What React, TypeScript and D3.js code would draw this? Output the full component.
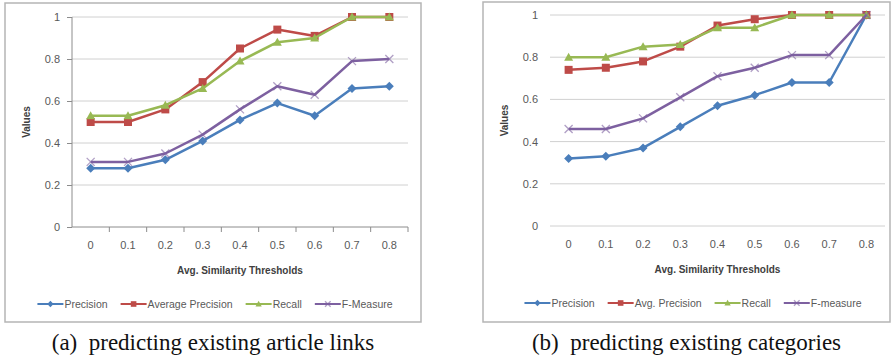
import React, { useEffect, useRef } from 'react';
import * as d3 from 'd3';

const thresholds = ['0', '0.1', '0.2', '0.3', '0.4', '0.5', '0.6', '0.7', '0.8'];
const yTicks = [0, 0.2, 0.4, 0.6, 0.8, 1];

// (a) predicting existing article links
const linksPrecision = [0.28, 0.28, 0.32, 0.41, 0.51, 0.59, 0.53, 0.66, 0.67];
const linksAvgPrecision = [0.5, 0.5, 0.56, 0.69, 0.85, 0.94, 0.91, 1.0, 1.0];
const linksRecall = [0.53, 0.53, 0.58, 0.66, 0.79, 0.88, 0.9, 1.0, 1.0];
const linksFMeasure = [0.31, 0.31, 0.35, 0.44, 0.56, 0.67, 0.63, 0.79, 0.8];
const linksNames = ['Precision', 'Average Precision', 'Recall', 'F-Measure'];

// (b) predicting existing categories
const catPrecision = [0.32, 0.33, 0.37, 0.47, 0.57, 0.62, 0.68, 0.68, 1.0];
const catAvgPrecision = [0.74, 0.75, 0.78, 0.85, 0.95, 0.98, 1.0, 1.0, 1.0];
const catRecall = [0.8, 0.8, 0.85, 0.86, 0.94, 0.94, 1.0, 1.0, 1.0];
const catFMeasure = [0.46, 0.46, 0.51, 0.61, 0.71, 0.75, 0.81, 0.81, 1.0];
const catNames = ['Precision', 'Avg. Precision', 'Recall', 'F-measure'];

const colors = ['#4a7ebb', '#be4b48', '#98b954', '#7d60a0'];
const markers = ['diamond', 'square', 'triangle', 'cross'];
const SANS = '"Liberation Sans", Arial, sans-serif';

type PanelProps = {
  series: number[][];
  names: string[];
  frame: { x: number; y: number; w: number; h: number };
  plot: { left: number; right: number; top: number; bottom: number };
  axisLines: boolean;
  legendCenter: number;
  caption: string;
};

function drawMarker(g: any, kind: string, x: number, y: number, color: string, s = 1) {
  if (kind === 'diamond') {
    const r = 4.5 * s;
    g.append('path').attr('d', `M${x},${y - r}L${x + r},${y}L${x},${y + r}L${x - r},${y}Z`).attr('fill', color);
  } else if (kind === 'square') {
    const r = 4 * s;
    g.append('rect').attr('x', x - r).attr('y', y - r).attr('width', 2 * r).attr('height', 2 * r).attr('fill', color);
  } else if (kind === 'triangle') {
    const r = 4.5 * s;
    g.append('path').attr('d', `M${x},${y - r}L${x + r},${y + r * 0.78}L${x - r},${y + r * 0.78}Z`).attr('fill', color);
  } else {
    const r = 4 * s;
    g.append('path').attr('d', `M${x - r},${y - r}L${x + r},${y + r}M${x - r},${y + r}L${x + r},${y - r}`)
      .attr('stroke', color).attr('stroke-width', 1.3).attr('opacity', 0.6);
  }
}

function Panel({ series, names, frame, plot, axisLines, legendCenter, caption }: PanelProps) {
  const ref = useRef<SVGGElement>(null);

  useEffect(() => {
    const g = d3.select(ref.current);
    g.selectAll('*').remove();

    g.append('rect')
      .attr('x', frame.x).attr('y', frame.y).attr('width', frame.w).attr('height', frame.h)
      .attr('fill', 'white').attr('stroke', '#b5b5b5').attr('stroke-width', 1.5);

    const x = d3.scaleBand().domain(thresholds).range([plot.left, plot.right]);
    const y = d3.scaleLinear().domain([0, 1]).range([plot.bottom, plot.top]);

    // grid
    g.append('g').selectAll('line').data(yTicks.filter(t => t > 0)).join('line')
      .attr('x1', plot.left).attr('x2', plot.right)
      .attr('y1', d => y(d)).attr('y2', d => y(d))
      .attr('stroke', '#d0d0d0').attr('stroke-width', 1);

    const yAxis = g.append('g').attr('transform', `translate(${plot.left},0)`)
      .call(d3.axisLeft(y).tickValues(yTicks).tickFormat(d3.format('~g')).tickSize(axisLines ? 5 : 0).tickPadding(axisLines ? 7 : 12));
    yAxis.selectAll('text').attr('font-family', SANS).attr('font-size', 11).attr('fill', '#595959');
    yAxis.selectAll('line').attr('stroke', '#8c8c8c');
    if (axisLines) {
      yAxis.select('.domain').attr('stroke', '#8c8c8c').attr('d', `M0,${plot.bottom}V${plot.top}`);
    } else {
      yAxis.select('.domain').remove();
    }

    const xAxis = g.append('g').attr('transform', `translate(0,${plot.bottom})`)
      .call(d3.axisBottom(x).tickSize(0).tickPadding(14));
    xAxis.selectAll('text').attr('font-family', SANS).attr('font-size', 11).attr('fill', '#595959');
    if (axisLines) {
      xAxis.select('.domain').attr('stroke', '#8c8c8c').attr('d', `M${plot.left},0H${plot.right}`);
      g.append('g').selectAll('line').data(thresholds).join('line')
        .attr('x1', d => (x(d) as number) + x.bandwidth()).attr('x2', d => (x(d) as number) + x.bandwidth())
        .attr('y1', plot.bottom).attr('y2', plot.bottom + 5)
        .attr('stroke', '#8c8c8c');
    } else {
      xAxis.select('.domain').attr('stroke', '#d0d0d0').attr('d', `M${plot.left},0H${plot.right}`);
    }

    // axis titles
    g.append('text')
      .attr('transform', `translate(${frame.x + 25},${(plot.top + plot.bottom) / 2}) rotate(-90)`)
      .attr('text-anchor', 'middle').attr('font-family', SANS).attr('font-size', 10)
      .attr('font-weight', 'bold').attr('fill', '#404040').text('Values');
    g.append('text')
      .attr('x', (plot.left + plot.right) / 2).attr('y', plot.bottom + 47)
      .attr('text-anchor', 'middle').attr('font-family', SANS).attr('font-size', 10)
      .attr('font-weight', 'bold').attr('fill', '#404040').text('Avg. Similarity Thresholds');

    // series
    const line = d3.line<number>()
      .x((_, i) => (x(thresholds[i]) as number) + x.bandwidth() / 2)
      .y(d => y(d));
    series.forEach((vals, si) => {
      const sg = g.append('g');
      sg.append('path').datum(vals).attr('d', line).attr('fill', 'none')
        .attr('stroke', colors[si]).attr('stroke-width', 2.5).attr('stroke-linejoin', 'round');
      vals.forEach((v, i) => {
        drawMarker(sg, markers[si], (x(thresholds[i]) as number) + x.bandwidth() / 2, y(v), colors[si]);
      });
    });

    // legend
    const lg = g.append('g');
    const items = names.map((name, i) => {
      const it = lg.append('g');
      it.append('line').attr('x1', 0).attr('x2', 26).attr('y1', 0).attr('y2', 0)
        .attr('stroke', colors[i]).attr('stroke-width', 2);
      drawMarker(it, markers[i], 13, 0, colors[i], 0.7);
      const t = it.append('text').attr('x', 27).attr('y', 4).attr('font-family', SANS)
        .attr('font-size', 10.5).attr('fill', '#595959').text(name);
      const w = 27 + (t.node() as SVGTextElement).getComputedTextLength();
      return { it, w };
    });
    const gap = 13;
    const total = d3.sum(items, d => d.w) + gap * (items.length - 1);
    let cx = legendCenter - total / 2;
    const ly = plot.bottom + 77;
    items.forEach(({ it, w }) => {
      it.attr('transform', `translate(${cx},${ly})`);
      cx += w + gap;
    });

    g.append('text')
      .attr('x', frame.x + frame.w / 2).attr('y', frame.y + frame.h + 28)
      .attr('text-anchor', 'middle').attr('font-family', '"Liberation Serif", "Times New Roman", serif')
      .attr('font-size', 23).attr('fill', '#111').text(caption);
  }, []);

  return <g ref={ref} />;
}

export default function App() {
  return (
    <svg width={895} height={360} style={{ position: 'absolute', left: 0, top: 0, background: 'white' }}>
      <Panel
        series={[linksPrecision, linksAvgPrecision, linksRecall, linksFMeasure]}
        names={linksNames}
        frame={{ x: 5, y: 3, w: 416, h: 319 }}
        plot={{ left: 72, right: 408, top: 17, bottom: 227 }}
        axisLines={true}
        legendCenter={215}
        caption={'(a)\u00a0\u00a0predicting existing article links'}
      />
      <Panel
        series={[catPrecision, catAvgPrecision, catRecall, catFMeasure]}
        names={catNames}
        frame={{ x: 483, y: 2, w: 407, h: 320 }}
        plot={{ left: 550, right: 885, top: 15, bottom: 226 }}
        axisLines={false}
        legendCenter={693}
        caption={'(b)\u00a0\u00a0predicting existing categories'}
      />
    </svg>
  );
}
